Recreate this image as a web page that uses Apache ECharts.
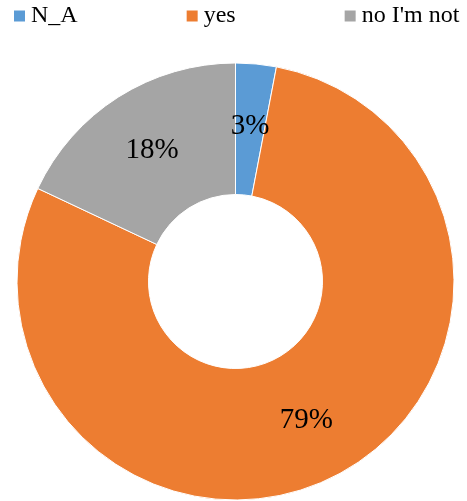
<!DOCTYPE html>
<html>
<head>
<meta charset="utf-8">
<style>
  html, body { margin: 0; padding: 0; background: #ffffff; }
  #chart { width: 467px; height: 501px; }
</style>
<script src="https://cdn.jsdelivr.net/npm/echarts@6/dist/echarts.min.js"></script>
</head>
<body>
<div id="chart"></div>
<script>
// Survey answers and their shares (percent)
const categories = ['N_A', 'yes', "no I'm not"];
const shares = [3, 79, 18];
const colors = ['#5B9BD5', '#ED7D31', '#A5A5A5'];

const chart = echarts.init(document.getElementById('chart'), null, { renderer: 'canvas' });

const option = {
  animation: false,
  color: colors,
  textStyle: { fontFamily: '"Liberation Serif", "Times New Roman", serif' },
  legend: {
    data: categories,
    left: 12,
    top: 4,
    itemWidth: 13,
    itemHeight: 13,
    itemGap: 107,
    icon: 'rect',
    textStyle: {
      fontFamily: '"Liberation Serif", "Times New Roman", serif',
      fontSize: 24,
      color: '#000000',
      padding: [0, 0, 0, 0]
    },
    padding: 0
  },
  series: [{
    type: 'pie',
    center: [235.5, 281.5],
    radius: [87, 218.5],
    startAngle: 90,
    clockwise: true,
    avoidLabelOverlap: false,
    itemStyle: { borderColor: '#ffffff', borderWidth: 1 },
    label: {
      show: true,
      position: 'inside',
      formatter: '{c}%',
      fontFamily: '"Liberation Serif", "Times New Roman", serif',
      fontSize: 29,
      color: '#000000'
    },
    labelLine: { show: false },
    emphasis: { disabled: true },
    data: categories.map((name, i) => ({ name: name, value: shares[i] }))
  }]
};

chart.setOption(option);
</script>
</body>
</html>
